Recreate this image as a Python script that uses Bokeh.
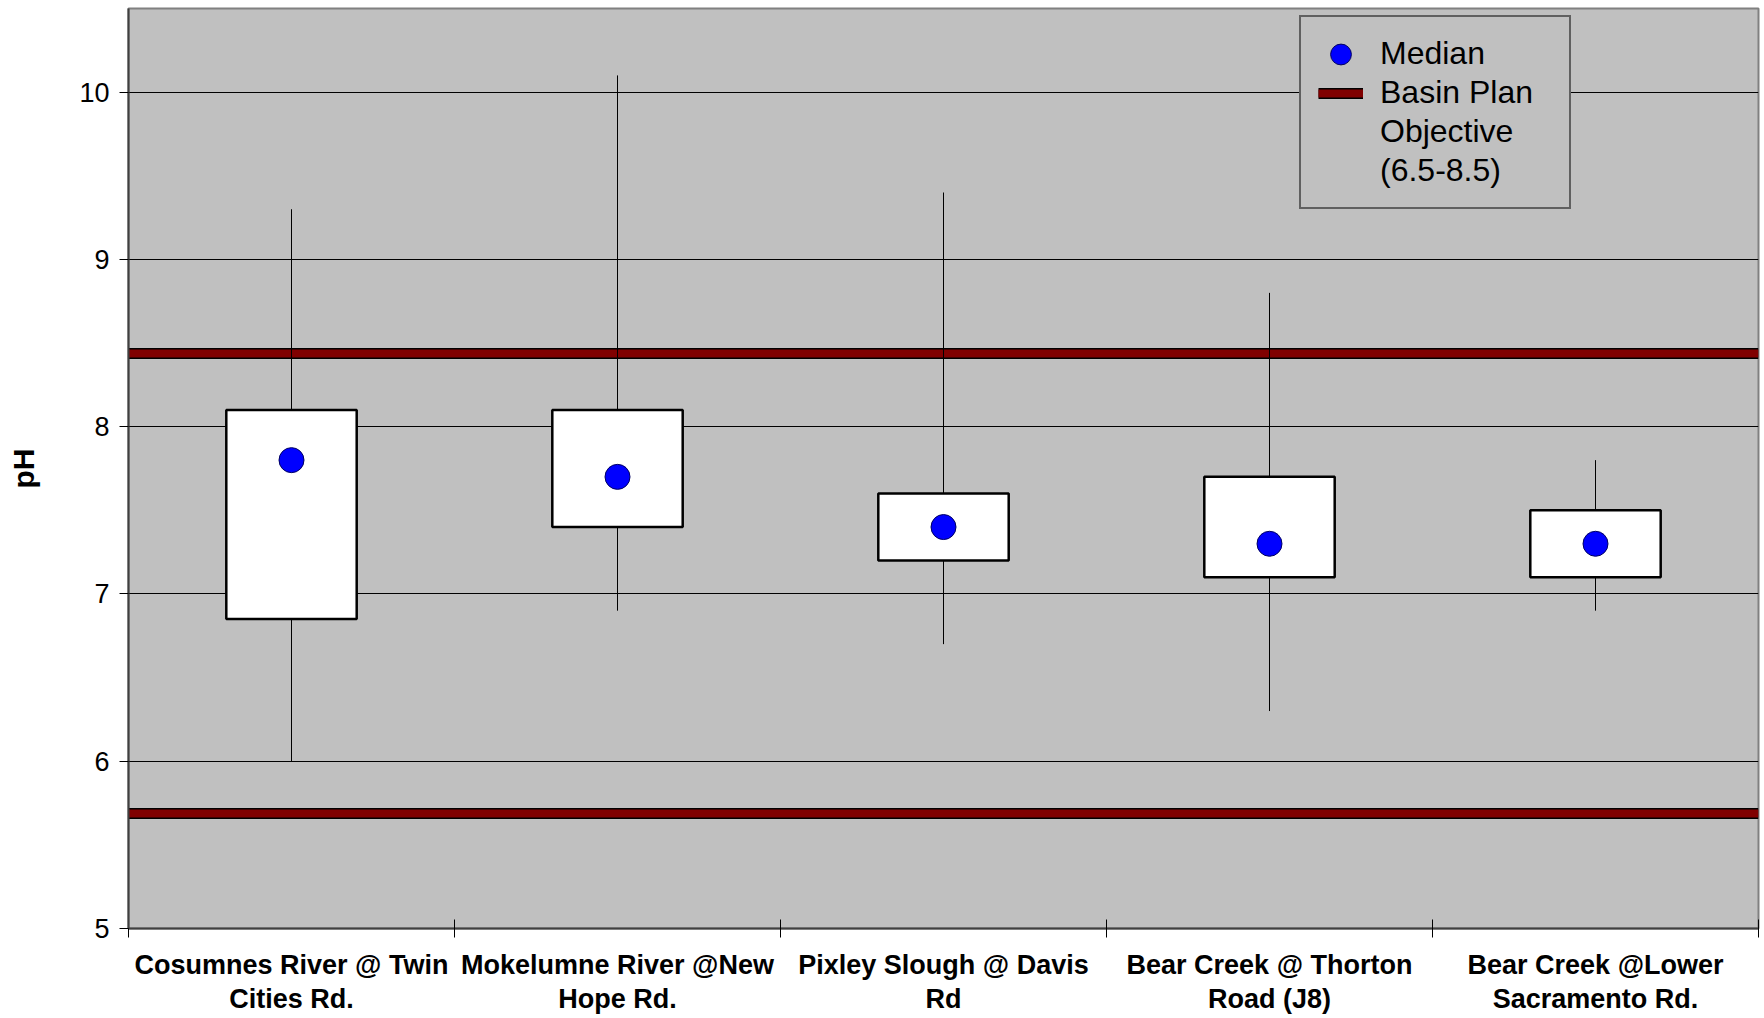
from bokeh.plotting import figure
from bokeh.models import (Range1d, LinearAxis, FixedTicker, Legend, LegendItem)
from bokeh.embed import file_html
from bokeh.resources import INLINE

categories = ["Cosumnes River @ Twin\nCities Rd.",
              "Mokelumne River @New\nHope Rd.",
              "Pixley Slough @ Davis\nRd",
              "Bear Creek @ Thorton\nRoad (J8)",
              "Bear Creek @Lower\nSacramento Rd."]
whisker_high = [9.3, 10.1, 9.4, 8.8, 7.8]
box_top = [8.1, 8.1, 7.6, 7.7, 7.5]
median = [7.8, 7.7, 7.4, 7.3, 7.3]
box_bottom = [6.85, 7.4, 7.2, 7.1, 7.1]
whisker_low = [6.0, 6.9, 6.7, 6.3, 6.9]
objective = [6.5, 8.5]
y_ticks = [5, 6, 7, 8, 9, 10]

n = len(categories)
centers = [i + 0.5 for i in range(n)]
FONT = "Liberation Sans"

p = figure(frame_width=1630, frame_height=920, output_backend="svg",
           toolbar_location=None, x_axis_type=None,
           x_range=Range1d(0, n), y_range=Range1d(5, 10.5),
           min_border_left=128, min_border_right=4, min_border_top=8,
           background_fill_color="#C0C0C0", border_fill_color="white")
p.extra_y_ranges = {"obj": Range1d(6, 10)}
p.outline_line_color = "#808080"
p.outline_line_width = 2

# y axis
p.yaxis.ticker = FixedTicker(ticks=y_ticks)
p.ygrid.ticker = FixedTicker(ticks=y_ticks)
p.ygrid.grid_line_color = "black"
p.ygrid.grid_line_width = 1
p.yaxis.major_tick_in = 0
p.yaxis.major_tick_out = 9
p.yaxis.minor_tick_line_color = None
p.yaxis.axis_line_color = "#404040"
p.yaxis.axis_line_width = 2
p.yaxis.major_label_text_font = FONT
p.yaxis.major_label_text_font_size = "27px"
p.yaxis.major_label_text_color = "black"
p.yaxis.major_label_standoff = 10
p.yaxis.axis_label = "pH"
p.yaxis.axis_label_text_font = FONT
p.yaxis.axis_label_text_font_size = "30px"
p.yaxis.axis_label_text_font_style = "bold"
p.yaxis.axis_label_text_color = "black"
p.yaxis.axis_label_standoff = 36

# x axes: boundary ticks and category labels
bounds = list(range(n + 1))
ax1 = LinearAxis(ticker=FixedTicker(ticks=bounds),
                 major_label_overrides={b: "" for b in bounds},
                 major_tick_in=9, major_tick_out=9,
                 axis_line_color="#404040", axis_line_width=2,
                 major_tick_line_color="black", minor_tick_line_color=None,
                 major_label_standoff=0)
ax2 = LinearAxis(ticker=FixedTicker(ticks=centers),
                 major_label_overrides={c: lab for c, lab in zip(centers, categories)},
                 major_tick_in=0, major_tick_out=0, axis_line_color=None,
                 minor_tick_line_color=None, major_tick_line_color=None,
                 major_label_text_font=FONT, major_label_text_font_size="27px",
                 major_label_text_font_style="bold", major_label_text_color="black",
                 major_label_text_line_height=1.16,
                 major_label_standoff=12)
p.add_layout(ax1, "below")
p.add_layout(ax2, "below")

# objective lines (on hidden secondary axis)
obj_black = p.segment(x0=[0] * len(objective), x1=[n] * len(objective), y0=objective,
                      y1=objective, y_range_name="obj", line_color="black", line_width=11)
obj_red = p.segment(x0=[0] * len(objective), x1=[n] * len(objective), y0=objective,
                    y1=objective, y_range_name="obj", line_color="#800000", line_width=8)

# whiskers
p.segment(x0=centers, x1=centers, y0=whisker_low, y1=whisker_high,
          line_color="black", line_width=1)
# boxes
p.vbar(x=centers, width=0.4, top=box_top, bottom=box_bottom,
       fill_color="white", line_color="black", line_width=2.5)
# medians
med = p.ellipse(x=centers, y=median, width=25, height=25, width_units="screen",
                height_units="screen", fill_color="#0000FF", line_color="#000060",
                line_width=1)

dummy1 = p.line(x=[], y=[], line_alpha=0)
dummy2 = p.line(x=[], y=[], line_alpha=0)

legend = Legend(items=[
    LegendItem(label="Median", renderers=[med]),
    LegendItem(label="Basin Plan", renderers=[obj_black, obj_red]),
    LegendItem(label="Objective", renderers=[dummy1]),
    LegendItem(label="(6.5-8.5)", renderers=[dummy2]),
], location=(1171, 719), orientation="vertical")
legend.glyph_width = 45
legend.glyph_height = 26
legend.label_height = 39
legend.label_width = 172
legend.spacing = 0
legend.padding = 17
legend.margin = 0
legend.label_standoff = 17
legend.label_text_font = FONT
legend.label_text_font_size = "32px"
legend.label_text_color = "black"
legend.border_line_color = "black"
legend.border_line_width = 2
legend.background_fill_color = "#C0C0C0"
legend.background_fill_alpha = 1
p.add_layout(legend, "center")

open("out.html", "w").write(file_html(p, INLINE))
